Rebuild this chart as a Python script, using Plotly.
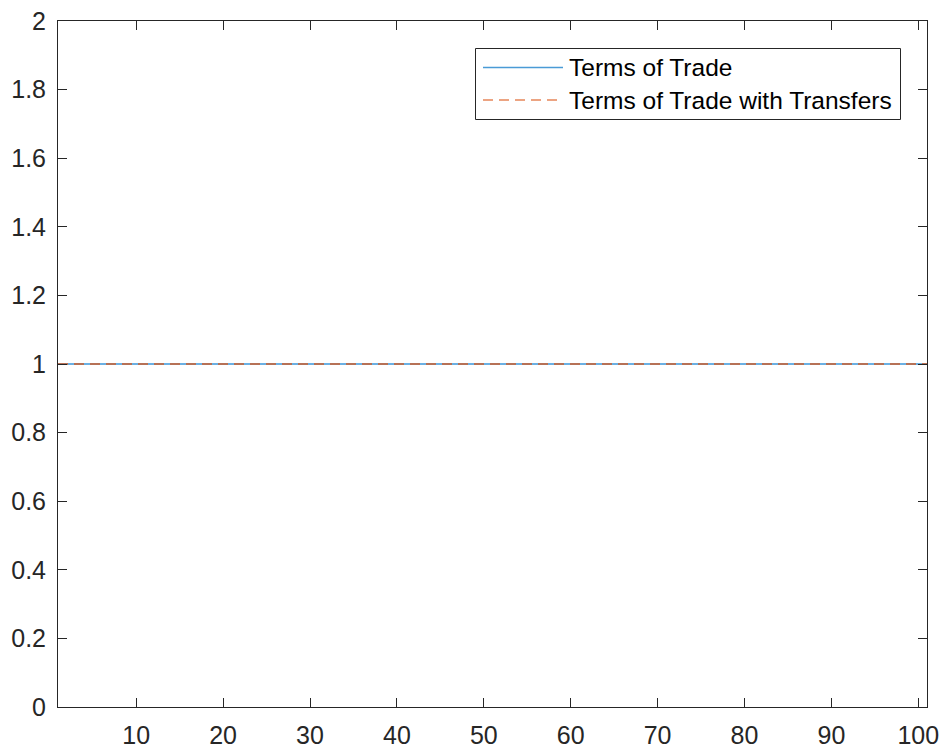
import plotly.graph_objects as go

# ---- data ----
periods = [
    1, 2, 3, 4, 5, 6, 7, 8, 9, 10, 11, 12, 13, 14, 15, 16, 17, 18, 19, 20,
    21, 22, 23, 24, 25, 26, 27, 28, 29, 30, 31, 32, 33, 34, 35, 36, 37, 38, 39, 40,
    41, 42, 43, 44, 45, 46, 47, 48, 49, 50, 51, 52, 53, 54, 55, 56, 57, 58, 59, 60,
    61, 62, 63, 64, 65, 66, 67, 68, 69, 70, 71, 72, 73, 74, 75, 76, 77, 78, 79, 80,
    81, 82, 83, 84, 85, 86, 87, 88, 89, 90, 91, 92, 93, 94, 95, 96, 97, 98, 99, 100, 101,
]
terms_of_trade = [
    1, 1, 1, 1, 1, 1, 1, 1, 1, 1, 1, 1, 1, 1, 1, 1, 1, 1, 1, 1,
    1, 1, 1, 1, 1, 1, 1, 1, 1, 1, 1, 1, 1, 1, 1, 1, 1, 1, 1, 1,
    1, 1, 1, 1, 1, 1, 1, 1, 1, 1, 1, 1, 1, 1, 1, 1, 1, 1, 1, 1,
    1, 1, 1, 1, 1, 1, 1, 1, 1, 1, 1, 1, 1, 1, 1, 1, 1, 1, 1, 1,
    1, 1, 1, 1, 1, 1, 1, 1, 1, 1, 1, 1, 1, 1, 1, 1, 1, 1, 1, 1, 1,
]
terms_of_trade_transfers = [
    1, 1, 1, 1, 1, 1, 1, 1, 1, 1, 1, 1, 1, 1, 1, 1, 1, 1, 1, 1,
    1, 1, 1, 1, 1, 1, 1, 1, 1, 1, 1, 1, 1, 1, 1, 1, 1, 1, 1, 1,
    1, 1, 1, 1, 1, 1, 1, 1, 1, 1, 1, 1, 1, 1, 1, 1, 1, 1, 1, 1,
    1, 1, 1, 1, 1, 1, 1, 1, 1, 1, 1, 1, 1, 1, 1, 1, 1, 1, 1, 1,
    1, 1, 1, 1, 1, 1, 1, 1, 1, 1, 1, 1, 1, 1, 1, 1, 1, 1, 1, 1, 1,
]
series_names = ["Terms of Trade", "Terms of Trade with Transfers"]
x_tick_vals = [10, 20, 30, 40, 50, 60, 70, 80, 90, 100]
y_tick_vals = [0, 0.2, 0.4, 0.6, 0.8, 1, 1.2, 1.4, 1.6, 1.8, 2]
y_tick_text = ["0", "0.2", "0.4", "0.6", "0.8", "1", "1.2", "1.4", "1.6", "1.8", "2"]

# ---- style ----
BLUE = "#3A96DA"
ORANGE = "#CF5C28"
BLUE_LEG = "#4A9BD6"
ORANGE_LEG = "#E6865A"
AXIS = "#262626"
FONT = "Liberation Sans, Arial, Helvetica, sans-serif"
W, H = 943, 748
ML, MR, MT, MB = 58, 16, 21, 41
PW, PH = W - ML - MR, H - MT - MB
DASH = "10px,6px"


def px_x(p):
    return (p - ML) / PW


def px_y(p):
    return (H - MB - p) / PH


fig = go.Figure()
fig.add_trace(go.Scatter(x=periods, y=terms_of_trade, mode="lines",
                         name=series_names[0], line=dict(color=BLUE, width=1.3),
                         showlegend=False))
fig.add_trace(go.Scatter(x=periods, y=terms_of_trade_transfers, mode="lines",
                         name=series_names[1], line=dict(color=ORANGE, width=1.3, dash=DASH),
                         showlegend=False))

axis_common = dict(
    showline=True, linecolor=AXIS, linewidth=1, mirror="ticks",
    ticks="inside", ticklen=9, tickwidth=1, tickcolor=AXIS,
    showgrid=False, zeroline=False, automargin=False,
    tickfont=dict(family=FONT, size=25, color=AXIS),
)

fig.update_xaxes(range=[1, 101], tickvals=x_tick_vals, ticklabelstandoff=6, **axis_common)
fig.update_yaxes(range=[0, 2], tickvals=y_tick_vals, ticktext=y_tick_text,
                 ticklabelstandoff=6, **axis_common)

# ---- manual legend (MATLAB style) ----
shapes = [
    dict(type="rect", xref="paper", yref="paper",
         x0=px_x(475.5), x1=px_x(900.5), y0=px_y(119.5), y1=px_y(48.5),
         line=dict(color=AXIS, width=1), fillcolor="white", layer="above"),
    dict(type="line", xref="paper", yref="paper",
         x0=px_x(483), x1=px_x(563), y0=px_y(67.5), y1=px_y(67.5),
         line=dict(color=BLUE_LEG, width=1.5), layer="above"),
    dict(type="line", xref="paper", yref="paper",
         x0=px_x(483), x1=px_x(563), y0=px_y(100), y1=px_y(100),
         line=dict(color=ORANGE_LEG, width=1.5, dash=DASH), layer="above"),
]
annotations = [
    dict(xref="paper", yref="paper", x=px_x(567), y=px_y(row_y),
         xanchor="left", yanchor="middle", text=name, showarrow=False,
         font=dict(family=FONT, size=24.5, color="#000000"))
    for name, row_y in zip(series_names, [67.5, 100])
]

fig.update_layout(
    template="none",
    width=W, height=H,
    margin=dict(l=ML, r=MR, t=MT, b=MB, pad=0, autoexpand=False),
    paper_bgcolor="white", plot_bgcolor="white",
    shapes=shapes, annotations=annotations,
    showlegend=False,
)

fig.write_html(
    "out.html",
    config={"displayModeBar": False},
    post_script="document.body.style.margin='0';document.body.style.overflow='hidden';",
)
